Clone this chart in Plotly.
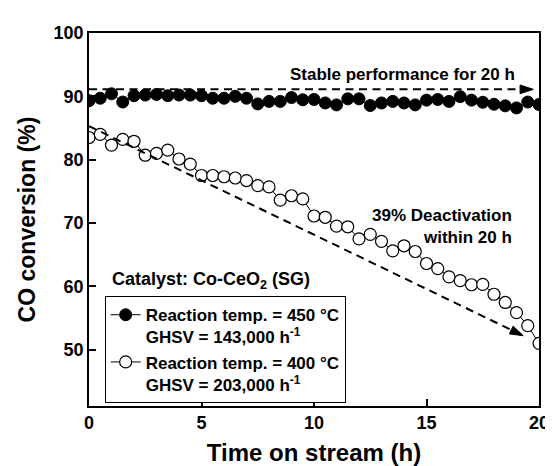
import plotly.graph_objects as go

# ---------------- data ----------------
time_h = [0, 0.5, 1, 1.5, 2, 2.5, 3, 3.5, 4, 4.5, 5, 5.5, 6, 6.5, 7, 7.5, 8, 8.5, 9, 9.5,
          10, 10.5, 11, 11.5, 12, 12.5, 13, 13.5, 14, 14.5, 15, 15.5, 16, 16.5, 17, 17.5,
          18, 18.5, 19, 19.5, 20]

conv_450 = [89.3, 89.7, 90.4, 89.1, 90.1, 90.2, 90.3, 90.1, 90.2, 90.2, 90.1, 89.7,
            89.7, 90.0, 89.7, 88.8, 89.2, 89.2, 89.8, 89.45, 89.5, 88.95, 88.65, 89.6,
            89.6, 88.55, 88.95, 89.2, 88.95, 88.65, 89.4, 89.5, 89.2, 89.95, 89.4, 89.06,
            88.75, 88.5, 88.17, 89.1, 88.7]

conv_400 = [83.5, 84.0, 82.3, 83.2, 82.9, 80.7, 81.0, 81.5, 80.1, 79.3, 77.5, 77.5,
            77.3, 77.1, 76.7, 75.9, 75.7, 73.6, 74.3, 73.8, 71.1, 70.9, 69.5, 69.4,
            67.5, 68.2, 67.1, 65.6, 66.4, 65.5, 63.6, 62.8, 61.5, 60.9, 60.25, 60.3,
            58.75, 57.45, 55.85, 53.8, 51.0]

x_ticks = [0, 5, 10, 15, 20]
y_ticks = [50, 60, 70, 80, 90, 100]

# guide arrows (annotation endpoints)
stable_arrow_x = [0, 19.75]
stable_arrow_y = [91.1, 91.1]
deact_arrow_x = [0, 19.3]
deact_arrow_y = [85.3, 52.2]

name_450 = "Reaction temp. = 450 °C<br>GHSV = 143,000 h<sup>-1</sup>"
name_400 = "Reaction temp. = 400 °C<br>GHSV = 203,000 h<sup>-1</sup>"

FONT = "Liberation Sans, Arial, sans-serif"

fig = go.Figure()

fig.add_trace(go.Scatter(
    x=time_h, y=conv_450, mode="lines+markers", name=name_450,
    line=dict(color="black", width=1),
    marker=dict(symbol="circle", size=12, color="black",
                line=dict(color="black", width=1)),
))
fig.add_trace(go.Scatter(
    x=time_h, y=conv_400, mode="lines+markers", name=name_400,
    line=dict(color="black", width=1),
    marker=dict(symbol="circle", size=12, color="white",
                line=dict(color="black", width=1.2)),
))

for ax_x, ax_y in [(stable_arrow_x, stable_arrow_y), (deact_arrow_x, deact_arrow_y)]:
    fig.add_trace(go.Scatter(
        x=ax_x, y=ax_y, mode="lines", showlegend=False, hoverinfo="skip",
        line=dict(color="black", width=2, dash="8px,5.5px"),
        cliponaxis=False,
    ))
    fig.add_trace(go.Scatter(
        x=ax_x, y=ax_y, mode="markers", showlegend=False, hoverinfo="skip",
        marker=dict(symbol="arrow", size=[1, 14], angleref="previous", color="black",
                    opacity=1, line=dict(color="black", width=1)),
        cliponaxis=False,
    ))

fig.add_annotation(x=19.04, y=93.44, xref="x", yref="y", text="Stable performance for 20 h",
                   showarrow=False, xanchor="right", yanchor="middle",
                   font=dict(family=FONT, size=17, color="black", weight="bold"))
fig.add_annotation(x=18.9, y=69.45, xref="x", yref="y", text="39% Deactivation<br>within 20 h",
                   showarrow=False, xanchor="right", yanchor="middle", align="right",
                   font=dict(family=FONT, size=17, color="black", weight="bold"))
fig.add_annotation(x=0.95, y=60.94, xref="x", yref="y", text="Catalyst: Co-CeO<sub>2</sub> (SG)",
                   showarrow=False, xanchor="left", yanchor="middle",
                   font=dict(family=FONT, size=18, color="black", weight="bold"))

axis_common = dict(
    showgrid=False, zeroline=False, showline=True, linecolor="black", linewidth=1.5,
    mirror=True, ticks="inside", ticklen=7, tickwidth=1.5, tickcolor="black",
    tickfont=dict(family=FONT, size=18, color="black", weight="bold"),
)

fig.update_layout(
    width=553, height=466,
    margin=dict(l=81, r=12, t=25, b=64),
    paper_bgcolor="white", plot_bgcolor="white",
    font=dict(family=FONT, color="black"),
    xaxis=dict(range=[0, 20], tickvals=x_ticks, **axis_common,
               title=dict(text="Time on stream (h)", standoff=12,
                          font=dict(family=FONT, size=24, color="black", weight="bold"))),
    yaxis=dict(range=[41.1, 100], tickvals=y_ticks, **axis_common,
               title=dict(text="CO conversion (%)", standoff=12,
                          font=dict(family=FONT, size=23, color="black", weight="bold"))),
    legend=dict(x=0.0348, y=0.2944, xanchor="left", yanchor="top",
                bordercolor="black", borderwidth=1, bgcolor="white",
                font=dict(family=FONT, size=17, color="black", weight="bold"),
                valign="top", tracegroupgap=0),
    showlegend=True,
)

fig.write_html("out.html")
